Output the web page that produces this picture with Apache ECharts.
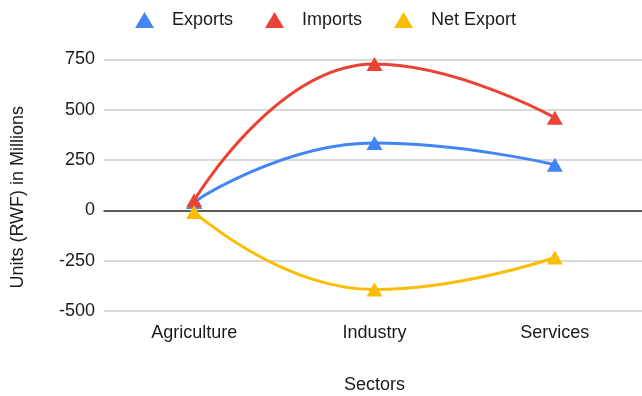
<!DOCTYPE html>
<html>
<head>
<meta charset="utf-8">
<script src="https://cdn.jsdelivr.net/npm/echarts@6/dist/echarts.min.js"></script>
<style>
  html, body { margin: 0; padding: 0; background: #fff; }
  #chart { width: 642px; height: 396px; }
</style>
</head>
<body>
<div id="chart"></div>
<script>
// Sector trade figures, units (RWF) in millions
const sectors = ['Agriculture', 'Industry', 'Services'];
const exportsVals = [42, 335, 227];
const importsVals = [50, 728, 461];
const netExportVals = [-8, -393, -234];
const yTicks = { min: -500, max: 750, step: 250 };

const FONT = '"Liberation Sans", Arial, sans-serif';
const TEXT = '#1a1a1a';
const FS = 18;

const chart = echarts.init(document.getElementById('chart'), null, { renderer: 'canvas' });

function lineSeries(name, data, color) {
  return {
    name: name,
    type: 'line',
    data: data,
    smooth: 0.5,
    symbol: 'triangle',
    symbolSize: [16, 14],
    showSymbol: true,
    lineStyle: { width: 3, color: color },
    itemStyle: { color: color },
    emphasis: { disabled: true },
    animation: false
  };
}

chart.setOption({
  animation: false,
  color: ['#4285F4', '#EA4335', '#FBBC04'],
  textStyle: { fontFamily: FONT },
  legend: {
    top: 6,
    left: 130,
    icon: 'triangle',
    itemWidth: 19,
    itemHeight: 16,
    itemGap: 32,
    textStyle: { fontFamily: FONT, fontSize: FS, color: TEXT, padding: [0, 0, 0, 13] },
    data: ['Exports', 'Imports', 'Net Export']
  },
  grid: { left: 104, right: -3, top: 59.5, bottom: 85, containLabel: false, outerBoundsMode: 'none' },
  xAxis: {
    type: 'category',
    data: sectors,
    boundaryGap: true,
    name: 'Sectors',
    nameLocation: 'middle',
    nameGap: 65,
    nameTextStyle: { fontFamily: FONT, fontSize: FS, color: TEXT },
    axisLine: { onZero: true, lineStyle: { color: '#333', width: 1.5 } },
    axisTick: { show: false },
    axisLabel: { fontFamily: FONT, fontSize: FS, color: TEXT, margin: 13 }
  },
  yAxis: {
    type: 'value',
    min: yTicks.min,
    max: yTicks.max,
    interval: yTicks.step,
    name: 'Units (RWF) in Millions',
    nameLocation: 'middle',
    nameGap: 77,
    nameTextStyle: { fontFamily: FONT, fontSize: FS, color: TEXT, padding: [0, 24, 0, 0] },
    axisLine: { show: false },
    axisTick: { show: false },
    axisLabel: { fontFamily: FONT, fontSize: FS, color: TEXT, margin: 9 },
    splitLine: { lineStyle: { color: '#cccccc', width: 1.5 } }
  },
  series: [
    lineSeries('Exports', exportsVals, '#4285F4'),
    lineSeries('Imports', importsVals, '#EA4335'),
    lineSeries('Net Export', netExportVals, '#FBBC04')
  ]
});
</script>
</body>
</html>
